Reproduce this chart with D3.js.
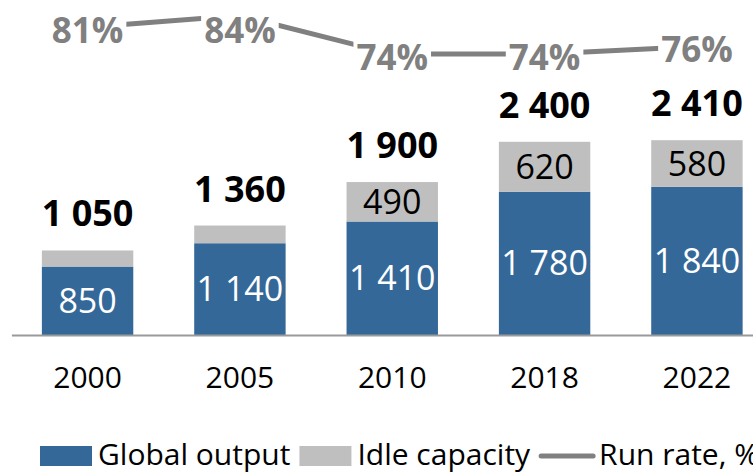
<!DOCTYPE html>
<html>
<head>
<meta charset="utf-8">
<script src="https://cdn.jsdelivr.net/npm/d3@7"></script>
<style>
  body { margin: 0; background: #fff; }
  svg { display: block; font-family: "Open Sans", "Noto Sans", sans-serif; }
</style>
</head>
<body>
<svg id="chart" width="753" height="474"></svg>
<script>
// chart values
const years = ['2000', '2005', '2010', '2018', '2022']
const globalOutput = [850, 1140, 1410, 1780, 1840]
const idleCapacity = [200, 220, 490, 620, 580]
const totalCapacity = [1050, 1360, 1900, 2400, 2410]
const runRate = [81, 84, 74, 74, 76]
const legendNames = ['Global output', 'Idle capacity', 'Run rate, %']

const blue = '#346899'
const grey = '#bfbfbf'
const lineGrey = '#808080'

// numbers like "1 050"
const fmt = d3.formatLocale({ decimal: ',', thousands: ' ', grouping: [3], currency: ['', ''] }).format(',d')

const svg = d3.select('#chart')
const baseY = 335

const xScale = d3.scaleBand()
  .domain(years)
  .range([11.4, 773.1])
  .paddingInner(0.4)
  .paddingOuter(0.2)

const yScale = d3.scaleLinear().domain([0, 3000]).range([baseY, 93.5])
const y2Scale = d3.scaleLinear().domain([0, 100]).range([339, -46])

const rows = years.map((year, i) => ({
  year: year,
  output: globalOutput[i],
  idle: idleCapacity[i],
  top: globalOutput[i] + idleCapacity[i],
  total: totalCapacity[i],
  rate: runRate[i]
}))

// bars
const bars = svg.append('g').attr('class', 'bars')
bars.selectAll('rect.output')
  .data(rows)
  .enter()
  .append('rect')
  .attr('class', 'output')
  .attr('x', (d) => xScale(d.year))
  .attr('y', (d) => yScale(d.output))
  .attr('width', xScale.bandwidth())
  .attr('height', (d) => baseY - yScale(d.output))
  .attr('fill', blue)

bars.selectAll('rect.idle')
  .data(rows)
  .enter()
  .append('rect')
  .attr('class', 'idle')
  .attr('x', (d) => xScale(d.year))
  .attr('y', (d) => yScale(d.top))
  .attr('width', xScale.bandwidth())
  .attr('height', (d) => yScale(d.output) - yScale(d.top))
  .attr('fill', grey)

// x axis
const xAxis = svg.append('g')
  .attr('class', 'x axis')
  .attr('transform', 'translate(0,' + baseY + ')')
  .call(d3.axisBottom(xScale).tickSize(0).tickPadding(32))
xAxis.select('.domain').attr('stroke', '#9a9a9a').attr('stroke-width', 2)
xAxis.selectAll('text')
  .attr('fill', '#000')
  .style('font-size', '30px')
  .style('font-family', '"Open Sans", sans-serif')

// labels inside the segments
const cx = (d) => xScale(d.year) + xScale.bandwidth() / 2
const labels = svg.append('g').attr('class', 'labels').attr('text-anchor', 'middle')
labels.selectAll('text.output')
  .data(rows)
  .enter()
  .append('text')
  .attr('x', cx)
  .attr('y', (d) => (baseY + yScale(d.output)) / 2 + 12)
  .attr('fill', '#fff')
  .style('font-size', '34px')
  .text((d) => fmt(d.output))

labels.selectAll('text.idle')
  .data(rows.filter((d) => d.idle > 300))
  .enter()
  .append('text')
  .attr('x', cx)
  .attr('y', (d) => (yScale(d.output) + yScale(d.top)) / 2 + 12)
  .attr('fill', '#000')
  .style('font-size', '34px')
  .text((d) => fmt(d.idle))

labels.selectAll('text.total')
  .data(rows)
  .enter()
  .append('text')
  .attr('x', cx)
  .attr('y', (d) => yScale(d.top) - 24)
  .attr('fill', '#000')
  .style('font-size', '36px')
  .style('font-weight', 'bold')
  .text((d) => fmt(d.total))

// run rate line
const line = d3.line().x(cx).y((d) => y2Scale(d.rate))
svg.append('path')
  .datum(rows)
  .attr('d', line)
  .attr('fill', 'none')
  .attr('stroke', lineGrey)
  .attr('stroke-width', 5)

const rateG = svg.append('g').attr('class', 'rate-labels')
const rateLabel = rateG.selectAll('g')
  .data(rows)
  .enter()
  .append('g')
rateLabel.append('rect').attr('fill', '#fff')
rateLabel.append('text')
  .attr('x', cx)
  .attr('y', (d) => Math.max(y2Scale(d.rate) + 16, 43))
  .attr('text-anchor', 'middle')
  .attr('fill', lineGrey)
  .style('font-size', '35px')
  .style('font-weight', 'bold')
  .text((d) => d.rate + '%')
rateLabel.each(function () {
  const g = d3.select(this)
  const box = g.select('text').node().getBBox()
  g.select('rect')
    .attr('x', box.x - 3)
    .attr('y', box.y)
    .attr('width', box.width + 6)
    .attr('height', box.height)
})

// legend
const legend = svg.append('g').attr('class', 'legend')
let lx = 40
legendNames.forEach((name, i) => {
  if (i < 2) {
    legend.append('rect')
      .attr('x', lx).attr('y', 446)
      .attr('width', 52).attr('height', 20)
      .attr('fill', i === 0 ? blue : grey)
    lx += 58
  } else {
    legend.append('line')
      .attr('x1', lx + 2).attr('x2', lx + 54)
      .attr('y1', 456).attr('y2', 456)
      .attr('stroke', lineGrey)
      .attr('stroke-width', 5)
      .attr('stroke-linecap', 'round')
    lx += 60
  }
  const t = legend.append('text')
    .attr('x', lx).attr('y', 465)
    .attr('fill', '#000')
    .style('font-size', '30px')
    .text(name)
  lx += t.node().getComputedTextLength() + 9
})
</script>
</body>
</html>
